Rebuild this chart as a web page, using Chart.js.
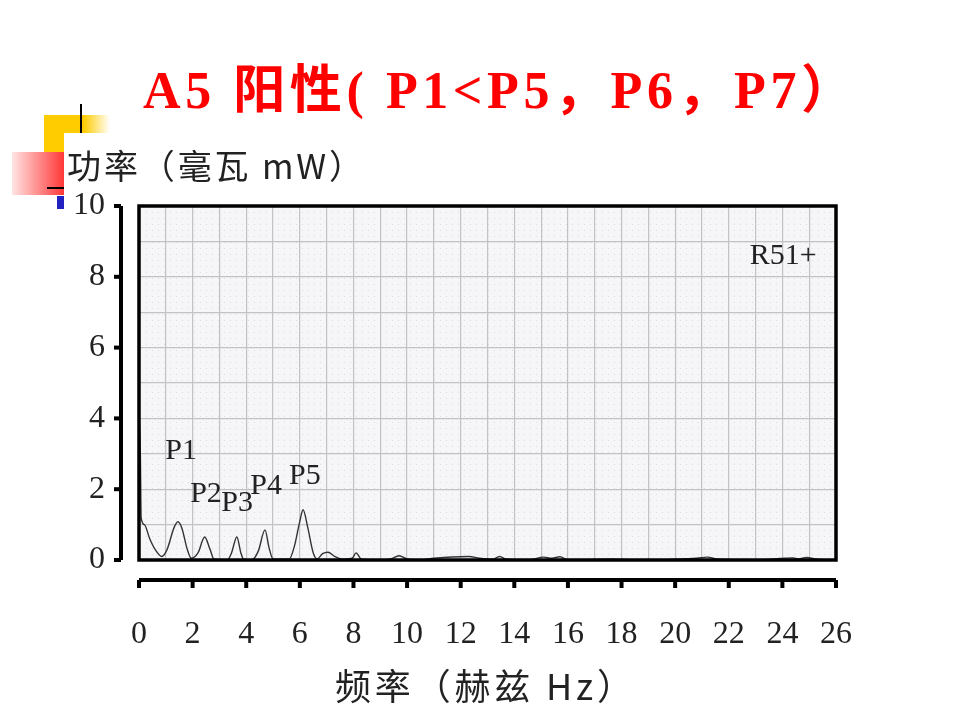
<!DOCTYPE html>
<html>
<head>
<meta charset="utf-8">
<script src="https://cdn.jsdelivr.net/npm/chart.js@4.4.1/dist/chart.umd.min.js"></script>
<style>
    body { margin: 0; background: #fff; }
    #stage { position: relative; width: 960px; height: 720px; overflow: hidden; }
    .deco { position: absolute; }
    #chart { position: absolute; left: 0; top: 0; }
</style>
</head>
<body>
<div id="stage">
    <div class="deco" style="left:44px;top:115px;width:66px;height:48px;background:linear-gradient(to right,#ffcc00 60%,rgba(255,204,0,0));"></div>
    <div class="deco" style="left:12px;top:152px;width:56px;height:43px;background:linear-gradient(to right,#ffe4e4,#ff2a2a);"></div>
    <div class="deco" style="left:80px;top:104px;width:2px;height:36px;background:#000;"></div>
    <div class="deco" style="left:47px;top:187px;width:18px;height:2px;background:#000;"></div>
    <div class="deco" style="left:57px;top:196px;width:8px;height:13px;background:#2222c0;"></div>
    <div class="deco" style="left:64px;top:133px;width:830px;height:590px;background:#fff;"></div>
    <canvas id="chart" width="960" height="720"></canvas>
</div>
<script>
// Textes
const TITLE = 'A5 阳性( P1<P5，P6，P7）';
const Y_TITLE = '功率（毫瓦 mW）';
const X_TITLE = '频率（赫兹 Hz）';

// Spectre de puissance (frequence en Hz, puissance en mW)
const freqHz = [0, 0.05, 0.08, 0.2, 0.4, 0.6, 0.85, 1.05, 1.3, 1.45, 1.6, 1.8, 1.95,
    2.2, 2.45, 2.65, 2.8, 3.3, 3.45, 3.65, 3.8, 3.9, 4.2, 4.45, 4.7, 4.85, 5.0,
    5.6, 5.8, 6.0, 6.12, 6.3, 6.5, 6.65, 6.85, 7.05, 7.3, 7.6, 7.95, 8.1, 8.3,
    9.0, 9.4, 9.7, 10.0, 10.5, 11.0, 12.3, 12.7, 13.2, 13.45, 13.7, 14.5, 15.1,
    15.4, 15.7, 16.0, 17.5, 19.0, 20.8, 21.2, 21.6, 23.0, 24.4, 24.6, 24.9, 25.3, 26.0];
const powerMw = [4.1, 3.0, 1.2, 1.0, 0.6, 0.3, 0.1, 0.3, 0.9, 1.08, 0.9, 0.3, 0.05,
    0.2, 0.65, 0.3, 0.02, 0.0, 0.2, 0.65, 0.2, 0.02, 0.0, 0.25, 0.85, 0.35, 0.03,
    0.02, 0.4, 1.1, 1.42, 0.9, 0.2, 0.03, 0.18, 0.22, 0.1, 0.02, 0.05, 0.2, 0.02,
    0.0, 0.03, 0.12, 0.03, 0.0, 0.05, 0.1, 0.05, 0.02, 0.1, 0.02, 0.0, 0.08,
    0.05, 0.09, 0.0, 0.02, 0.0, 0.05, 0.08, 0.02, 0.0, 0.06, 0.03, 0.07, 0.02, 0.0];

// Etiquettes des pics (position en unites des axes)
const peakNames = ['P1', 'P2', 'P3', 'P4', 'P5', 'R51+'];
const peakFreq = [1.57, 2.5, 3.66, 4.74, 6.19, 24.03];
const peakPower = [3.08, 1.86, 1.61, 2.09, 2.37, 8.59];

// Axes
const X_MIN = 0, X_MAX = 26;
const Y_MIN = 0, Y_MAX = 10;

const serif = "'Liberation Serif', 'DejaVu Serif'";
const cjk = "'Noto Sans CJK SC', sans-serif";

// Fond pointille de la zone de trace
function makeDotPattern(ctx) {
    const c = document.createElement('canvas');
    c.width = 6; c.height = 6;
    const g = c.getContext('2d');
    g.fillStyle = '#f6f6f9';
    g.fillRect(0, 0, 6, 6);
    g.fillStyle = '#dcdce2';
    g.fillRect(2, 2, 1, 1);
    return ctx.createPattern(c, 'repeat');
}

// Ecrire un texte caractere par caractere pour couvrir une largeur donnee
function fitText(ctx, text, x, y, width) {
    const chars = [...text];
    const widths = chars.map(c => ctx.measureText(c).width);
    const total = widths.reduce((s, w) => s + w, 0);
    const gap = chars.length > 1 ? (width - total) / (chars.length - 1) : 0;
    let cx = x;
    chars.forEach((c, i) => {
        ctx.fillText(c, cx, y);
        cx += widths[i] + gap;
    });
}

const decorPlugin = {
    id: 'decor',
    beforeDraw(chart) {
        const { ctx, chartArea: a } = chart;
        ctx.save();
        ctx.fillStyle = makeDotPattern(ctx);
        ctx.fillRect(a.left, a.top, a.right - a.left, a.bottom - a.top);
        ctx.restore();
    },
    afterDraw(chart) {
        const { ctx, chartArea: a } = chart;
        const xs = chart.scales.x, ys = chart.scales.y;
        ctx.save();

        // cadre
        ctx.strokeStyle = '#000';
        ctx.lineWidth = 3.5;
        ctx.strokeRect(a.left, a.top, a.right - a.left, a.bottom - a.top);

        // axe Y decale
        const ax = a.left - 18;
        ctx.lineWidth = 4;
        ctx.beginPath();
        ctx.moveTo(ax, ys.getPixelForValue(Y_MAX));
        ctx.lineTo(ax, ys.getPixelForValue(Y_MIN));
        ctx.stroke();
        for (let v = Y_MIN; v <= Y_MAX; v += 2) {
            const y = ys.getPixelForValue(v);
            ctx.beginPath();
            ctx.moveTo(ax - 7, y);
            ctx.lineTo(ax, y);
            ctx.stroke();
        }

        // axe X decale
        const ay = a.bottom + 20;
        ctx.beginPath();
        ctx.moveTo(xs.getPixelForValue(X_MIN), ay);
        ctx.lineTo(xs.getPixelForValue(X_MAX), ay);
        ctx.stroke();
        for (let v = X_MIN; v <= X_MAX; v += 2) {
            const x = xs.getPixelForValue(v);
            ctx.beginPath();
            ctx.moveTo(x, ay);
            ctx.lineTo(x, ay + 8);
            ctx.stroke();
        }

        // etiquettes des pics
        ctx.fillStyle = '#222';
        ctx.font = `30px ${serif}, serif`;
        ctx.textAlign = 'center';
        ctx.textBaseline = 'middle';
        peakNames.forEach((name, i) => {
            ctx.fillText(name, xs.getPixelForValue(peakFreq[i]), ys.getPixelForValue(peakPower[i]));
        });

        // titres
        ctx.textAlign = 'left';
        ctx.textBaseline = 'alphabetic';
        ctx.font = `34px ${cjk}`;
        fitText(ctx, Y_TITLE, 67, 179, 296);

        ctx.font = `36px ${cjk}`;
        fitText(ctx, X_TITLE, 335, 700, 298);

        ctx.fillStyle = '#ff0000';
        ctx.font = `bold 52px ${serif}, ${cjk}`;
        fitText(ctx, TITLE, 143, 108, 710);

        ctx.restore();
    }
};

const points = freqHz.map((f, i) => ({ x: f, y: powerMw[i] }));

new Chart(document.getElementById('chart').getContext('2d'), {
    type: 'line',
    data: {
        datasets: [{
            data: points,
            borderColor: '#333',
            borderWidth: 1.4,
            pointRadius: 0,
            cubicInterpolationMode: 'monotone',
            fill: false
        }]
    },
    options: {
        responsive: false,
        animation: false,
        layout: { padding: { top: 206, right: 124, left: 0, bottom: 0 } },
        plugins: {
            legend: { display: false },
            tooltip: { enabled: false }
        },
        scales: {
            x: {
                type: 'linear',
                min: X_MIN,
                max: X_MAX,
                afterFit: s => { s.height = 160; },
                border: { display: false },
                grid: { color: '#c2c2c2', lineWidth: 1.2, drawTicks: false },
                ticks: {
                    stepSize: 1,
                    autoSkip: false,
                    maxRotation: 0,
                    padding: 55,
                    color: '#222',
                    font: { family: serif, size: 32 },
                    callback: v => (v % 2 === 0 ? String(v) : '')
                }
            },
            y: {
                min: Y_MIN,
                max: Y_MAX,
                afterFit: s => { s.width = 139; },
                border: { display: false },
                grid: { color: '#c2c2c2', lineWidth: 1.2, drawTicks: false },
                ticks: {
                    stepSize: 1,
                    autoSkip: false,
                    padding: 34,
                    color: '#222',
                    font: { family: serif, size: 32 },
                    callback: v => (v % 2 === 0 ? String(v) : '')
                }
            }
        }
    },
    plugins: [decorPlugin]
});
</script>
</body>
</html>
